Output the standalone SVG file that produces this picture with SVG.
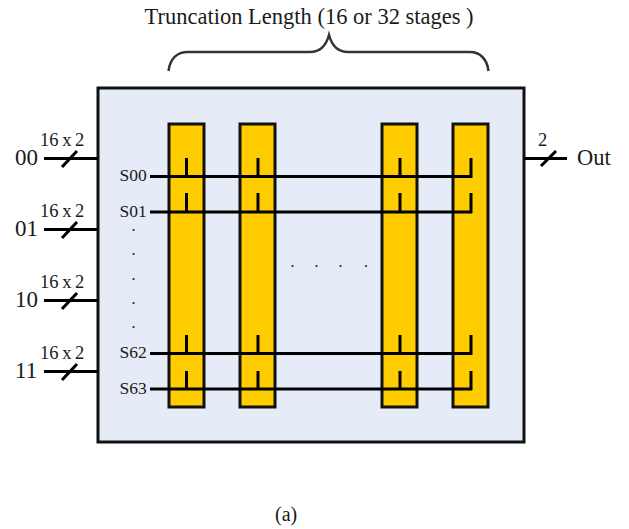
<svg xmlns="http://www.w3.org/2000/svg" width="629" height="529" viewBox="0 0 629 529">
<style>
text{font-family:"Liberation Serif","Times New Roman",serif;fill:#1a1a1a}
.b{font-size:23px}
.m{font-size:18.500px;word-spacing:-1px}
.s{font-size:17.500px}
.c{fill:none;stroke:#000;stroke-width:3;stroke-linecap:butt}
.v{fill:#ffcc00;stroke:#111;stroke-width:3}
.d{font-size:12px;font-weight:bold}
</style>
<rect width="629" height="529" fill="#fff"/>
<g id="title"><text x="144.500" y="24" font-size="22.500">Truncation Length (16 or 32 stages )</text>
<path d="M168.500 71C170 59 177 52 188 52H310C320 52 326 46 329 35C332 46 338 52 348 52H470C480 52 487 59 488.500 71" fill="none" stroke="#333" stroke-width="2.500"/></g>
<g id="frame"><rect x="98" y="88" width="426" height="354" fill="#e6ecf7" stroke="#111" stroke-width="3"/></g>
<g id="stage1"><rect class="v" x="169" y="124" width="35" height="283"/></g>
<g id="stage2"><rect class="v" x="240" y="124" width="35" height="283"/></g>
<g id="stage3"><rect class="v" x="382" y="124" width="35" height="283"/></g>
<g id="stage4"><rect class="v" x="453" y="124" width="35" height="283"/></g>
<g id="connectors">
<path class="c" d="M150 176.500H472M150 212H472M150 353.500H472M150 389H472"/>
<path class="c" d="M186.500 158V177M186.500 193V213M186.500 335V354M186.500 371V390M258 158V177M258 193V213M258 335V354M258 371V390M400 158V177M400 193V213M400 335V354M400 371V390M471 158V178M471 193V213M471 335V355M471 371V390"/>
<path class="c" d="M44 158.500H98M44 229.500H98M44 300.500H98M44 371.500H98M524 158.500H567"/>
<path class="c" d="M62 167L77 151M62 238L77 222M62 309L77 293M62 380L77 364M541 166L556 151"/>
</g>
<g id="in00"><text class="b" x="15" y="165">00</text><text class="m" x="40" y="146">16 x 2</text></g>
<g id="in01"><text class="b" x="15" y="236">01</text><text class="m" x="40" y="217">16 x 2</text></g>
<g id="in10"><text class="b" x="15" y="307">10</text><text class="m" x="40" y="288">16 x 2</text></g>
<g id="in11"><text class="b" x="15" y="378">11</text><text class="m" x="40" y="359">16 x 2</text></g>
<g id="out"><text class="m" x="538" y="146">2</text><text x="577" y="165" font-size="22.500">Out</text></g>
<g id="states">
<text class="s" x="119.500" y="181">S00</text><text class="s" x="119.500" y="216.500">S01</text><text class="s" x="119.500" y="358">S62</text><text class="s" x="119.500" y="394">S63</text>
<text class="d" x="132" y="231">.</text><text class="d" x="132" y="255">.</text><text class="d" x="132" y="280">.</text><text class="d" x="132" y="304">.</text><text class="d" x="132" y="328">.</text>
<text class="d" x="291" y="267">.</text><text class="d" x="315" y="267">.</text><text class="d" x="339" y="267">.</text><text class="d" x="364.500" y="267">.</text>
</g>
<g id="caption"><text x="275" y="521" font-size="20">(a)</text></g>
</svg>
